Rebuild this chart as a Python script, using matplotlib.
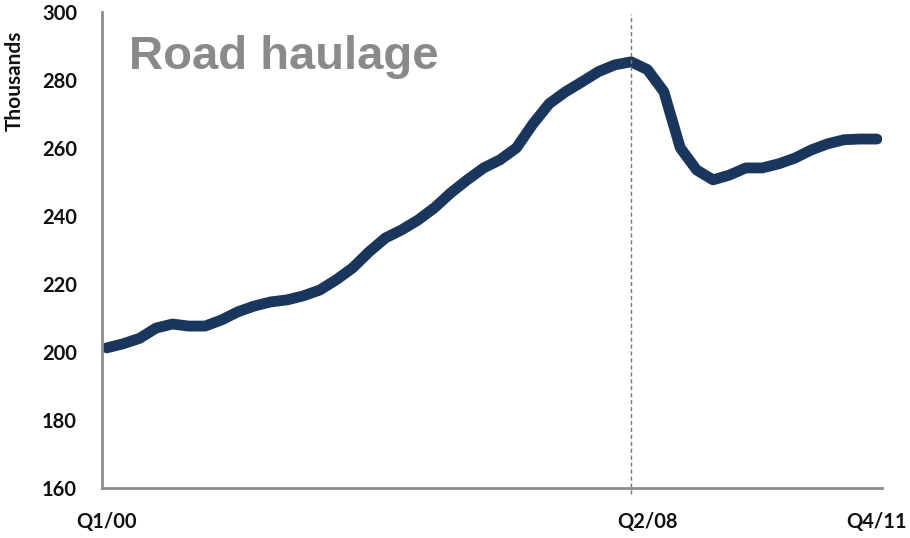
import matplotlib
matplotlib.use("Agg")
import matplotlib.pyplot as plt

# quarterly road haulage employment, Q1/00 .. Q4/11 (thousands)
quarters = list(range(48))
values = [201.2, 202.4, 204.0, 207.0, 208.2, 207.6, 207.6, 209.4,
          211.8, 213.5, 214.7, 215.3, 216.5, 218.2, 221.2, 224.7,
          229.4, 233.5, 235.9, 238.8, 242.4, 246.8, 250.6, 254.1,
          256.5, 260.0, 267.0, 273.0, 276.5, 279.4, 282.4, 284.4,
          285.3, 283.0, 276.5, 260.0, 253.5, 250.6, 252.0, 254.1,
          254.1, 255.3, 257.0, 259.4, 261.2, 262.4, 262.6, 262.6]
tick_pos = [0, 33, 47]
tick_labels = ["Q1/00", "Q2/08", "Q4/11"]
peak_q = 32

fig = plt.figure(figsize=(9.1, 5.38), dpi=100)
ax = fig.add_axes([0.112, 0.093, 0.857, 0.885])

ax.plot(quarters, values, color="#1b365d", lw=7.8,
        solid_capstyle="round", solid_joinstyle="round")
ax.axvline(peak_q, ymin=-0.012, ymax=0.995, color="#777777", lw=1,
           ls=(0, (3, 2)), clip_on=False)

ax.set_xlim(-0.3, 47.3)
ax.set_ylim(160, 300)
ax.set_yticks(range(160, 301, 20))
ax.set_xticks(tick_pos)
ax.set_xticklabels(tick_labels)

for s in ["top", "right"]:
    ax.spines[s].set_visible(False)
for s in ["left", "bottom"]:
    ax.spines[s].set_color("#8c8c8c")
    ax.spines[s].set_linewidth(2)

ax.tick_params(length=0)
ax.tick_params(axis="y", pad=18)
ax.tick_params(axis="x", pad=17)
for lab in ax.get_xticklabels() + ax.get_yticklabels():
    lab.set_fontfamily("Lato")
    lab.set_fontweight("bold")
    lab.set_fontsize(14.5)
    lab.set_color("#111111")

fig.text(0.016, 0.85, "Thousands", rotation=90, ha="center", va="center",
         fontsize=15, fontfamily="Lato", fontweight="bold", color="#111111")
ax.text(0.035, 0.905, "Road haulage", transform=ax.transAxes,
        fontsize=34, fontweight="bold", color="#8a8a8c",
        fontfamily="Liberation Sans", va="center")

fig.savefig("out.png", dpi=100)
